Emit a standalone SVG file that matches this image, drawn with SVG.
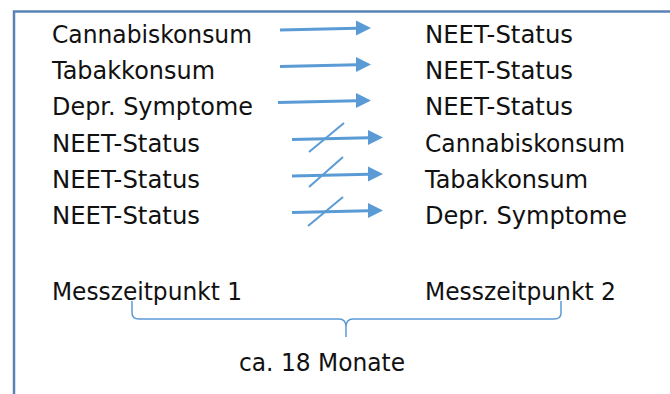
<svg xmlns="http://www.w3.org/2000/svg" width="670" height="394" viewBox="0 0 670 394">
<defs>
<style>
text{font-family:"DejaVu Sans",Verdana,sans-serif;font-size:24px;fill:#111}
.ar{stroke:#5b9bd5;stroke-width:3;fill:none}
.sl{stroke:#5b9bd5;stroke-width:2;fill:none}
.hd{fill:#5b9bd5}
</style>
</defs>
<rect width="670" height="394" fill="#fff"/>
<path d="M14,395 V11.5 H671" fill="none" stroke="#5a82b4" stroke-width="2.5"/>
<g id="left-labels">
<text x="52" y="43" textLength="200" lengthAdjust="spacingAndGlyphs">Cannabiskonsum</text>
<text x="52" y="79" textLength="163" lengthAdjust="spacingAndGlyphs">Tabakkonsum</text>
<text x="52" y="115" textLength="201" lengthAdjust="spacingAndGlyphs">Depr. Symptome</text>
<text x="52" y="152" textLength="148" lengthAdjust="spacingAndGlyphs">NEET-Status</text>
<text x="52" y="188" textLength="148" lengthAdjust="spacingAndGlyphs">NEET-Status</text>
<text x="52" y="224" textLength="148" lengthAdjust="spacingAndGlyphs">NEET-Status</text>
</g>
<g id="right-labels">
<text x="425" y="43" textLength="148" lengthAdjust="spacingAndGlyphs">NEET-Status</text>
<text x="425" y="79" textLength="148" lengthAdjust="spacingAndGlyphs">NEET-Status</text>
<text x="425" y="115" textLength="148" lengthAdjust="spacingAndGlyphs">NEET-Status</text>
<text x="425" y="152" textLength="200" lengthAdjust="spacingAndGlyphs">Cannabiskonsum</text>
<text x="425" y="188" textLength="163" lengthAdjust="spacingAndGlyphs">Tabakkonsum</text>
<text x="425" y="224" textLength="202" lengthAdjust="spacingAndGlyphs">Depr. Symptome</text>
</g>
<g id="connectors">
<line class="ar" x1="280" y1="30" x2="357" y2="28.3"/><polygon class="hd" points="371,28 356,20.5 356,35.5"/>
<line class="ar" x1="280" y1="66.5" x2="357" y2="64.8"/><polygon class="hd" points="371,64.5 356,57 356,72"/>
<line class="ar" x1="278" y1="102.5" x2="357" y2="100.8"/><polygon class="hd" points="371,100.5 356,93 356,108"/>
<line class="ar" x1="292" y1="139.5" x2="369" y2="137.8"/><polygon class="hd" points="383,137.5 368,130 368,145"/>
<line class="sl" x1="309" y1="152" x2="344" y2="123"/>
<line class="ar" x1="292" y1="176" x2="369" y2="174.3"/><polygon class="hd" points="383,174 368,166.5 368,181.5"/>
<line class="sl" x1="309" y1="187" x2="343" y2="157"/>
<line class="ar" x1="292" y1="212.5" x2="369" y2="210.8"/><polygon class="hd" points="383,210.5 368,203 368,218"/>
<line class="sl" x1="308" y1="226" x2="343" y2="197"/>
</g>
<g id="timeline">
<text x="52" y="300" textLength="190" lengthAdjust="spacingAndGlyphs">Messzeitpunkt 1</text>
<text x="425" y="300" textLength="191" lengthAdjust="spacingAndGlyphs">Messzeitpunkt 2</text>
<path d="M132,301 V313 Q132,319 139,319 H339 Q346,319 346,327 V337 M346,337 V327 Q346,319 353,319 H554 Q561,319 561,313 V301" fill="none" stroke="#5b9bd5" stroke-width="1.5"/>
<text x="239" y="371" textLength="166" lengthAdjust="spacingAndGlyphs">ca. 18 Monate</text>
</g>
</svg>
